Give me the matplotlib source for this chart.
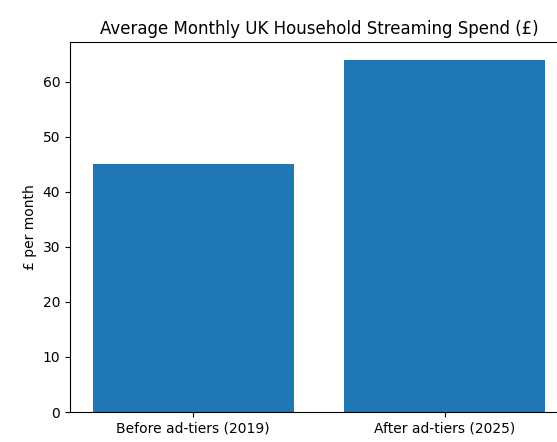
import matplotlib
matplotlib.use('Agg')
import matplotlib.pyplot as plt

categories = ['Before ad-tiers (2019)', 'After ad-tiers (2025)']
spend = [45, 64]

fig = plt.figure(figsize=(5.57, 4.42), dpi=100)
# the reference is cropped: its right spine sits just past the image edge
ax = fig.add_axes([70 / 557, 30 / 442, 498 / 557, 370 / 442])
ax.bar(categories, spend, color='#1f77b4')
ax.set_ylabel('£ per month')
ax.set_title('Average Monthly UK Household Streaming Spend (£)')
fig.savefig('out.png', dpi=100)
